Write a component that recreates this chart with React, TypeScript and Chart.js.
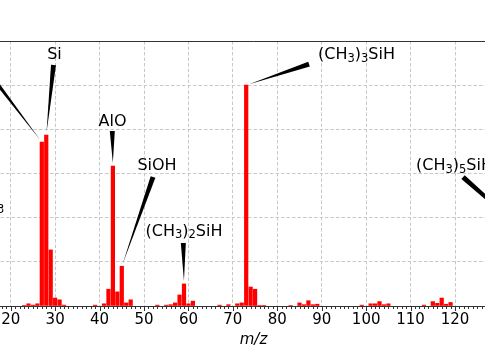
import React, { useEffect, useRef } from 'react';
import { Chart, registerables } from 'chart.js';

Chart.register(...registerables);

// m/z values and relative intensities (grid units, 0..6)
const mzValues = [23, 24, 25, 26, 27, 28, 29, 30, 31, 32, 39, 41, 42, 43, 44, 45, 46, 47, 53, 55, 56, 57, 58, 59, 60, 61, 67, 69, 71, 72, 73, 74, 75, 76, 77, 83, 85, 86, 87, 88, 89, 99, 101, 102, 103, 104, 105, 113, 115, 116, 117, 118, 119, 147];
const intensities = [0.01, 0.05, 0.02, 0.05, 3.71, 3.87, 1.27, 0.18, 0.14, 0.02, 0.02, 0.05, 0.38, 3.17, 0.32, 0.9, 0.07, 0.14, 0.02, 0.02, 0.03, 0.07, 0.25, 0.5, 0.05, 0.11, 0.02, 0.03, 0.05, 0.07, 5.0, 0.43, 0.38, 0.01, 0.01, 0.01, 0.07, 0.03, 0.12, 0.03, 0.04, 0.02, 0.05, 0.05, 0.1, 0.03, 0.05, 0.02, 0.1, 0.06, 0.18, 0.04, 0.08, 0.68];
const xTickValues = [10, 20, 30, 40, 50, 60, 70, 80, 90, 100, 110, 120, 130];
const xTitle = 'm/z';

// peak labels: text, target m/z (null = no arrow), text anchor (m/z, y) and arrow tail (m/z, y)
const peakLabels = ['Al', 'Si', 'AlO', 'SiOH', '(CH₃)₂SiH', '(CH₃)₃SiH', '(CH₃)₅SiH', 'CH₃'];
const peakTargets: (number | null)[] = [27, 28, 43, 45, 59, 73, 147, null];
const labelAnchors = [[9.2, 5.85], [29.86, 5.592], [42.91, 4.076], [52.93, 3.079], [59.0, 1.585], [97.83, 5.592], [119.88, 3.079], [15.1, 2.151]];
const arrowTails = [[12.64, 5.61], [29.63, 5.456], [42.86, 3.962], [52.03, 2.92], [58.85, 1.426], [87.14, 5.479], [121.8, 2.92], null];

const FONT = '"DejaVu Sans", "Noto Sans", sans-serif';
const SUBS = '₀₁₂₃₄₅₆₇₈₉';

function segments(label: string) {
  const out: { t: string; sub: boolean }[] = [];
  for (const ch of label) {
    const i = SUBS.indexOf(ch);
    const sub = i >= 0;
    const c = sub ? String(i) : ch;
    if (out.length && out[out.length - 1].sub === sub) out[out.length - 1].t += c;
    else out.push({ t: c, sub });
  }
  return out;
}

function drawRich(ctx: CanvasRenderingContext2D, label: string, cx: number, baseline: number) {
  const segs = segments(label);
  const mainFont = `16px ${FONT}`;
  const subFont = `11.5px ${FONT}`;
  let total = 0;
  const widths = segs.map((s) => {
    ctx.font = s.sub ? subFont : mainFont;
    const w = ctx.measureText(s.t).width;
    total += w;
    return w;
  });
  let x = cx - total / 2;
  ctx.textAlign = 'left';
  ctx.textBaseline = 'alphabetic';
  ctx.fillStyle = '#000';
  segs.forEach((s, i) => {
    ctx.font = s.sub ? subFont : mainFont;
    ctx.fillText(s.t, x, baseline + (s.sub ? 2.5 : 0));
    x += widths[i];
  });
}

const overlayPlugin = {
  id: 'overlay',
  afterDraw(chart: any) {
    const { ctx, chartArea } = chart;
    const xs = chart.scales.x;
    const ys = chart.scales.y;
    ctx.save();
    // frame: top spine and bottom axis
    ctx.strokeStyle = '#333';
    ctx.lineWidth = 1;
    ctx.setLineDash([]);
    ctx.beginPath();
    ctx.moveTo(chartArea.left, Math.round(chartArea.top) + 0.5);
    ctx.lineTo(chartArea.right, Math.round(chartArea.top) + 0.5);
    ctx.moveTo(chartArea.left, Math.round(chartArea.bottom) + 0.5);
    ctx.lineTo(chartArea.right, Math.round(chartArea.bottom) + 0.5);
    ctx.stroke();
    // major & minor ticks
    ctx.beginPath();
    const b = Math.round(chartArea.bottom) + 1;
    for (let v = Math.ceil(xs.min); v <= xs.max; v++) {
      const px = Math.round(xs.getPixelForValue(v)) + 0.5;
      const len = v % 10 === 0 ? 4 : 2;
      ctx.moveTo(px, b);
      ctx.lineTo(px, b + len);
    }
    ctx.stroke();

    // annotations
    peakLabels.forEach((label, i) => {
      const tgt = peakTargets[i];
      const tail = arrowTails[i];
      if (tgt !== null && tail) {
        const idx = mzValues.indexOf(tgt);
        const tx = xs.getPixelForValue(tgt);
        const ty = ys.getPixelForValue(intensities[idx]);
        const x0 = xs.getPixelForValue(tail[0]);
        const y0 = ys.getPixelForValue(tail[1]);
        const dx = tx - x0;
        const dy = ty - y0;
        const len = Math.hypot(dx, dy);
        const ux = dx / len;
        const uy = dy / len;
        const x1 = tx - ux * 3;
        const y1 = ty - uy * 3;
        const hw = 2.5;
        ctx.fillStyle = '#000';
        ctx.beginPath();
        ctx.moveTo(x0 - uy * hw, y0 + ux * hw);
        ctx.lineTo(x0 + uy * hw, y0 - ux * hw);
        ctx.lineTo(x1, y1);
        ctx.closePath();
        ctx.fill();
      }
      const a = labelAnchors[i];
      drawRich(ctx, label, xs.getPixelForValue(a[0]), ys.getPixelForValue(a[1]));
    });

    // x axis title
    ctx.font = `italic 15px ${FONT}`;
    ctx.fillStyle = '#000';
    ctx.textAlign = 'center';
    ctx.textBaseline = 'alphabetic';
    ctx.fillText(xTitle, (chartArea.left + chartArea.right) / 2, 344);
    ctx.restore();
  },
};

export default function App() {
  const ref = useRef<HTMLCanvasElement | null>(null);
  useEffect(() => {
    if (!ref.current) return;
    const chart = new Chart(ref.current, {
      type: 'bar',
      data: {
        datasets: [
          {
            data: mzValues.map((m, i) => ({ x: m, y: intensities[i] })),
            backgroundColor: '#ff0000',
            borderWidth: 0,
            barThickness: 3.55,
          },
        ],
      },
      options: {
        animation: false,
        responsive: false,
        devicePixelRatio: 1,
        layout: { padding: { top: 41, left: 0, right: 0, bottom: 0 } },
        plugins: { legend: { display: false }, tooltip: { enabled: false } },
        scales: {
          x: {
            type: 'linear',
            min: 4.086,
            max: 145.2,
            offset: false,
            afterFit: (s: any) => {
              s.height = 54;
            },
            afterBuildTicks: (s: any) => {
              s.ticks = xTickValues.map((v) => ({ value: v }));
            },
            grid: { color: '#c8c8c8', lineWidth: 1, drawTicks: false, offset: false },
            border: { display: false, dash: [3.5, 2] },
            ticks: {
              autoSkip: false,
              maxRotation: 0,
              padding: 5,
              color: '#000',
              font: { family: FONT, size: 15 },
              callback: (v: any) => String(v),
            },
          },
          y: {
            min: 0,
            max: 6,
            afterFit: (s: any) => {
              s.width = 0;
            },
            ticks: { display: false, stepSize: 1 },
            grid: { color: '#c8c8c8', lineWidth: 1, drawTicks: false },
            border: { display: false, dash: [3.5, 2] },
          },
        },
      } as any,
      plugins: [overlayPlugin],
    });
    return () => chart.destroy();
  }, []);
  return (
    <div style={{ position: 'fixed', left: 0, top: 0, width: 485, height: 360, overflow: 'hidden', background: '#fff' }}>
      <div style={{ position: 'absolute', left: -60, top: 0, width: 627, height: 360 }}>
        <canvas ref={ref} width={627} height={360} style={{ display: 'block' }} />
      </div>
    </div>
  );
}
